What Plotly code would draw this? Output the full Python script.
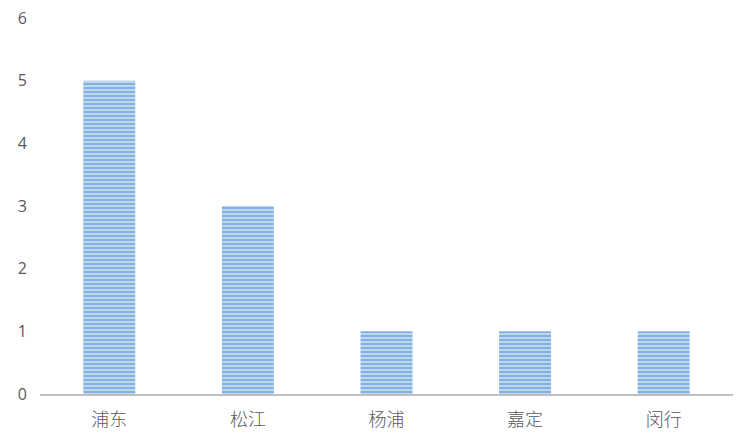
import plotly.graph_objects as go

districts = ["浦东", "松江", "杨浦", "嘉定", "闵行"]
counts = [5, 3, 1, 1, 1]
y_ticks = [0, 1, 2, 3, 4, 5, 6]

# the page body keeps its default 8px margin, so the figure is 8px smaller
# than the window and the plot margins are trimmed to match
fig = go.Figure(
    go.Bar(
        x=districts,
        y=counts,
        width=0.375,
        marker=dict(
            color="#bcd7f0",
            line=dict(width=0),
            pattern=dict(shape="-", fgcolor="#4d8ccf", bgcolor="#bcd7f0",
                         size=4, solidity=0.5),
        ),
    )
)

grey = "#595959"
fig.update_layout(
    width=747,
    height=433,
    margin=dict(l=32, r=22, t=10, b=47),
    paper_bgcolor="white",
    plot_bgcolor="white",
    showlegend=False,
    font=dict(family="Noto Sans CJK SC", size=17, color=grey),
    xaxis=dict(
        automargin=False,
        showline=True,
        linecolor="#bfbfbf",
        linewidth=2,
        ticks="",
        ticklabelstandoff=8,
        tickfont=dict(family="Noto Sans CJK SC Light, Noto Sans CJK SC", size=18, color=grey),
    ),
    yaxis=dict(
        automargin=False,
        range=[0, 6],
        tickvals=y_ticks,
        showgrid=False,
        zeroline=False,
        showline=False,
        ticks="",
        ticklabelstandoff=12,
        ticklabeloverflow="allow",
        tickfont=dict(family="Open Sans", size=16, color=grey),
    ),
)

fig.write_html("out.html")
